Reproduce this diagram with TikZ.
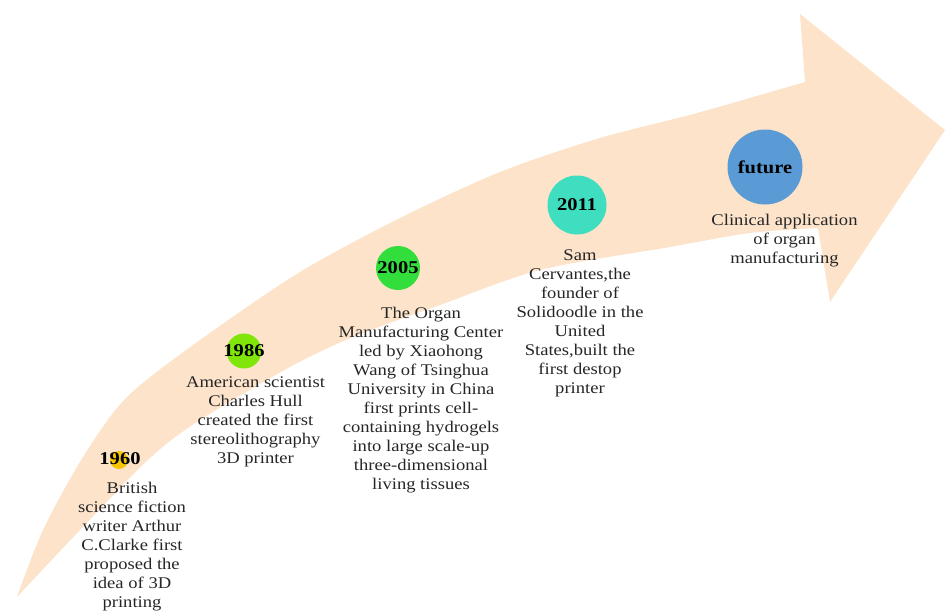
\documentclass[tikz,border=0pt]{standalone}
\usepackage{fontspec}
\setmainfont{Liberation Serif}[FakeStretch=1.14]
\begin{document}
\begin{tikzpicture}[x=1pt,y=-1pt,
  desc/.style={text=black!85, align=center, inner sep=0pt, anchor=north,
    font=\fontsize{16.3}{19.0}\selectfont},
  yearlbl/.style={text=black, inner sep=0pt, font=\bfseries\fontsize{18}{20}\selectfont},
  dot/.style={circle, inner sep=0pt, draw=none}]
\definecolor{peach}{RGB}{252,227,202}
\definecolor{c1960}{RGB}{246,196,0}
\definecolor{c1986}{RGB}{128,230,10}
\definecolor{c2005}{RGB}{50,222,60}
\definecolor{c2011}{RGB}{64,222,192}
\definecolor{cfut}{RGB}{91,155,213}
\useasboundingbox (0,0) rectangle (945,611);
% arrow
\fill[peach] plot[smooth] coordinates {(17,597) (43,530) (83,457) (127,397) (200,340) (300,272) (400,218) (500,172) (600,138) (697,113) (805,82)}
  -- (800,14) -- (945,130) -- (830,302) -- (818,228)
  -- plot[smooth] coordinates {(818,228) (750,233) (670,247) (540,270) (440,305) (353,337) (290,367) (200,420) (150,458) (80,530) (17,597)} -- cycle;
% circles
\node[dot, fill=c1960, minimum size=18pt] (k1960) at (119,460) {};
\node[dot, fill=c1986, minimum size=35pt] (k1986) at (244,351) {};
\node[dot, fill=c2005, minimum size=44pt] (k2005) at (398,268) {};
\node[dot, fill=c2011, minimum size=59pt] (k2011) at (577,205) {};
\node[dot, fill=cfut, minimum size=75pt] (kfut) at (765,167) {};
\node[yearlbl] (y1960) at (120,459) {1960};
\node[yearlbl] (y1986) at (k1986) {1986};
\node[yearlbl] (y2005) at (k2005) {2005};
\node[yearlbl] (y2011) at (k2011) {2011};
\node[yearlbl] (yfut) at (kfut) {future};
% descriptions
\node[desc] (d1960) at (132,482) {British\\science fiction\\writer Arthur\\C.Clarke first\\proposed the\\idea of 3D\\printing};
\node[desc] (d1986) at (255.5,376) {American scientist\\Charles Hull\\created the first\\stereolithography\\3D printer};
\node[desc] (d2005) at (421,307) {The Organ\\Manufacturing Center\\led by Xiaohong\\Wang of Tsinghua\\University in China\\first prints cell-\\containing hydrogels\\into large scale-up\\three-dimensional\\living tissues};
\node[desc] (d2011) at (580,249) {Sam\\Cervantes,the\\founder of\\Solidoodle in the\\United\\States,built the\\first destop\\printer};
\node[desc] (dfut) at (784.5,214) {Clinical application\\of organ\\manufacturing};
\end{tikzpicture}
\end{document}
